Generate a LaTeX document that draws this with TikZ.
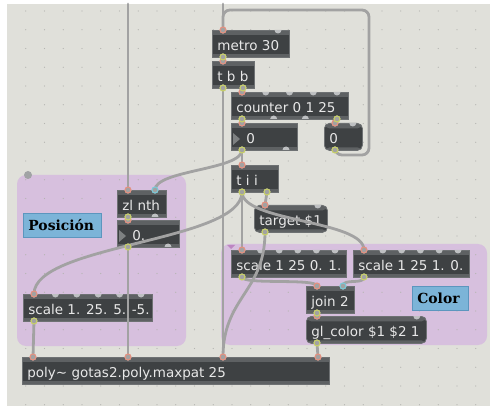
\documentclass[tikz,border=0pt]{standalone}
\usepackage{fontspec}
\usepackage{tikz}
\usetikzlibrary{calc}
\newfontfamily\maxfont{DejaVu Sans}
\newfontfamily\notefont{DejaVu Serif}
\definecolor{patchbg}{RGB}{224,224,218}
\definecolor{panelcol}{RGB}{215,192,222}
\definecolor{gridcol}{RGB}{180,180,176}
\definecolor{boxbody}{RGB}{62,65,67}
\definecolor{boxstrip}{RGB}{94,97,99}
\definecolor{boxline}{RGB}{110,113,115}
\definecolor{boxtext}{RGB}{232,232,232}
\definecolor{bumpcol}{RGB}{190,192,194}
\definecolor{cordcol}{RGB}{162,162,162}
\definecolor{inletcol}{RGB}{228,145,128}
\definecolor{outletcol}{RGB}{200,208,104}
\definecolor{coldcol}{RGB}{122,200,214}
\definecolor{notecol}{RGB}{124,180,216}
\definecolor{noteline}{RGB}{92,150,190}
\tikzstyle{obj}=[draw=boxline, fill=boxbody, line width=0.8pt, anchor=north west,
  minimum height=27pt, inner xsep=5pt, inner ysep=0pt, text height=13pt, text depth=0pt,
  text=boxtext, font=\maxfont\fontsize{13.5}{15}\selectfont,
  path picture={\fill[boxstrip] (path picture bounding box.north west) rectangle ([yshift=-5pt]path picture bounding box.north east);
    \fill[boxstrip] (path picture bounding box.south west) rectangle ([yshift=3pt]path picture bounding box.south east);}]
\tikzstyle{msg}=[obj, rounded corners=5pt]
\tikzstyle{note}=[draw=noteline, fill=notecol, line width=0.8pt, anchor=north west,
  minimum height=24pt, inner xsep=5pt, font=\notefont\bfseries\fontsize{13.9}{15}\selectfont]
\tikzstyle{panel}=[fill=panelcol, rounded corners=9pt]
\tikzstyle{bump}=[fill=bumpcol]
\tikzstyle{cord}=[draw=cordcol, line width=2.8pt, line cap=round]
\tikzstyle{inring}=[draw=inletcol, line width=1.1pt, fill=cordcol]
\tikzstyle{outring}=[draw=outletcol, line width=1.1pt, fill=cordcol]
\tikzstyle{coldring}=[draw=coldcol, line width=1.1pt, fill=cordcol]
\begin{document}
\begin{tikzpicture}[x=1pt,y=-1pt]
    \useasboundingbox (0,0) rectangle (490,406);
    \fill[white] (0,0) rectangle (490,406);
    \fill[patchbg] (7,4) rectangle (490,406);

    % the two coloured panels
    \fill[panel] (17,175) rectangle (186,346);
    \fill[panel] (221,244) rectangle (487,345);
    \fill[bumpcol!85!black] (28,175) circle (4pt);
    \fill[panelcol!70!violet] (227,245) -- (235,245) -- (231,249) -- cycle;

    % patcher grid
    \foreach \i in {1,...,25}
      \foreach \j in {0,...,21}
        \fill[gridcol] (7+\i*18.75,11+\j*18.75) circle (0.7pt);

    % objects: name/x/y/width/inlets/outlets/style/text
    \foreach \name/\x/\y/\w/\nin/\nout/\st/\txt in {
        metro/212/30/77/2/1/obj/{metro 30},
        tbb/212/61/42/1/2/obj/{t b b},
        counter/231/92/117/5/4/obj/{counter 0 1 25},
        num0/231/123/66/1/2/obj/{\hspace*{10pt}0},
        msg0/324/123/38/1/1/msg/{0},
        tii/231/165/47/1/2/obj/{t i i},
        target/254/205/73/1/1/msg/{target \$1},
        scaleA/231/250/115/6/1/obj/{scale 1 25 0. 1.},
        scaleB/353/250/116/6/1/obj/{scale 1 25 1. 0.},
        join/306/286/48/2/1/obj/{join 2},
        glcolor/306/316/120/1/1/msg/{gl\_color \$1 \$2 1},
        zlnth/117/190/49/2/2/obj/{zl nth},
        num1/117/220/62/1/2/obj/{\hspace*{10pt}0.},
        scaleC/23/294/129/6/1/obj/{scale 1. 25. 5. -5.},
        poly/22/357/307/4/0/obj/{poly\textasciitilde{} gotas2.poly.maxpat 25}}
    {
        \pgfmathsetmacro\tw{\w-10}
        \node[\st, minimum width=\w pt] (\name) at (\x,\y) {\makebox[\tw pt][l]{\txt}};
        \foreach \i in {1,...,\nin}{
            \pgfmathsetmacro\px{\x+11+(\i-1)*(\w-22)/max(\nin-1,1)}
            \coordinate (\name-i\i) at (\px,\y);
            \fill[bump] ([xshift=-3.5pt]\name-i\i) arc[start angle=180, end angle=360, radius=3.5pt] -- cycle;
        }
        \ifnum\nout>0
        \foreach \i in {1,...,\nout}{
            \pgfmathsetmacro\px{\x+11+(\i-1)*(\w-22)/max(\nout-1,1)}
            \coordinate (\name-o\i) at (\px,\y+27);
            \fill[bump] ([xshift=-3.5pt]\name-o\i) arc[start angle=180, end angle=0, radius=3.5pt] -- cycle;
        }
        \fi
    }
    % number box arrows and message box corners
    \foreach \n in {num0, num1}
        \fill[boxstrip!80!white] ($(\n.north west)+(2,10)$) -- ($(\n.north west)+(2,22)$) -- ($(\n.north west)+(9,16)$) -- cycle;
    \foreach \n in {msg0, target, glcolor}
        \fill[bump] ([xshift=-13.5pt]\n.north east) arc[start angle=180, end angle=360, radius=3.5pt] -- cycle;

    % comments
    \node[note, minimum width=78pt, text width=68pt] (posicion) at (23,213) {Posición};
    \node[note, minimum width=56pt, text width=46pt] (colornote) at (412,286) {Color};

    % cords
    \coordinate (topA) at (128,4);
    \coordinate (topB) at (223,4);
    \coordinate (loopR) at (369,10);
    \foreach \source/\dest in {topA/zlnth-i1, topB/metro-i1, metro-o1/tbb-i1, tbb-o2/counter-i1,
        counter-o1/num0-i1, counter-o4/msg0-i1, num0-o1/tii-i1, tii-o2/target-i1, tii-o1/scaleA-i1,
        join-o1/glcolor-i1, glcolor-o1/poly-i4, zlnth-o1/num1-i1, num1-o1/poly-i2, scaleC-o1/poly-i1,
        tbb-o1/poly-i3}
        \path[cord] (\source) -- (\dest);
    \foreach \source/\dest/\d in {num0-o1/zlnth-i2/20, tii-o1/scaleC-i1/50, tii-o1/scaleB-i1/30,
        target-o1/poly-i3/60, scaleA-o1/join-i1/8, scaleB-o1/join-i2/8}
        \path[cord] (\source) .. controls +(0,\d) and +(0,-\d) .. (\dest);
    \path[cord, rounded corners=7pt] (msg0-o1) -- ++(0,5) -| (loopR) -| (metro-i1);

    % port rings
    \foreach \p in {metro-i1, tbb-i1, counter-i1, num0-i1, msg0-i1, tii-i1, target-i1, scaleA-i1,
        scaleB-i1, join-i1, glcolor-i1, zlnth-i1, num1-i1, scaleC-i1, poly-i1, poly-i2, poly-i3, poly-i4}
        \draw[inring] (\p) circle (3pt);
    \foreach \p in {zlnth-i2, join-i2}
        \draw[coldring] (\p) circle (3pt);
    \foreach \p in {metro-o1, tbb-o1, tbb-o2, counter-o1, counter-o4, num0-o1, msg0-o1, tii-o1, tii-o2,
        target-o1, scaleA-o1, scaleB-o1, join-o1, glcolor-o1, zlnth-o1, num1-o1, scaleC-o1}
        \draw[outring] (\p) circle (3pt);
\end{tikzpicture}
\end{document}
